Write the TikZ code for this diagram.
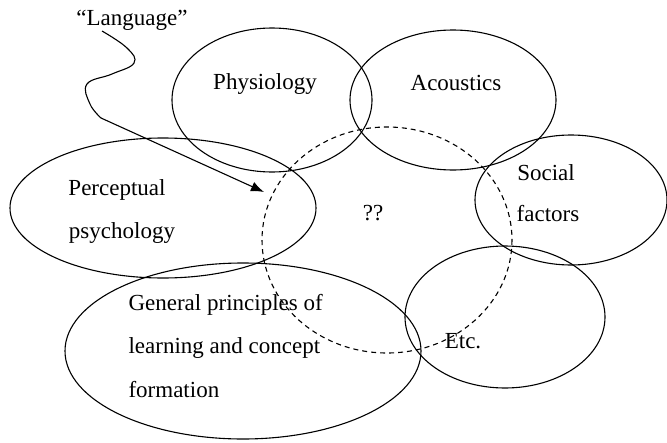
\documentclass[tikz,border=0pt]{standalone}
\usepackage{fontspec}
\setmainfont{Liberation Serif}
\usetikzlibrary{arrows.meta}

\begin{document}
\begin{tikzpicture}[x=1pt,y=-1pt,line width=1.1pt]
\tikzset{ lbl/.style={inner sep=0pt, font=\fontsize{23}{23}\selectfont}}
\useasboundingbox (0,0) rectangle (667,442);

% the fields round the question
\draw (272,100) ellipse (100 and 72);
\draw (453,100) ellipse (103 and 70);
\draw (571,200) ellipse (96 and 65);
\draw (163,208) ellipse (153 and 70);
\draw (243,351) ellipse (178 and 88);
\draw (505,317) ellipse (100 and 71);
\draw[dash pattern=on 5pt off 4pt] (387,240) ellipse (125 and 113);

\node[lbl] (physio) at (265,84) {Physiology};
\node[lbl] (acoust) at (456,83) {Acoustics};
\node[lbl] (social) at (546,173) {Social};
\node[lbl] (factors) at (548,214) {factors};
\node[lbl] (percep) at (117,190) {Perceptual};
\node[lbl] (psych) at (122,233) {psychology};
\node[lbl] (qq) at (373,213) {??};
\node[lbl, anchor=west] (gen1) at (128,305) {General principles of};
\node[lbl, anchor=west] (gen2) at (128,348) {learning and concept};
\node[lbl, anchor=west] (gen3) at (128,390) {formation};
\node[lbl] (etc) at (463,341) {Etc.};
\node[lbl] (lang) at (132,20) {``Language''};

\coordinate (lstart) at (102,31);
\coordinate (ltip) at (264,192);
\draw[-{Latex[length=13pt,width=10pt]}] (lstart) plot[smooth, tension=0.7] coordinates {(102,31) (127,48) (134,63) (112,74) (87,84) (90,104) (101,118)} -- (ltip);
\end{tikzpicture}
\end{document}
